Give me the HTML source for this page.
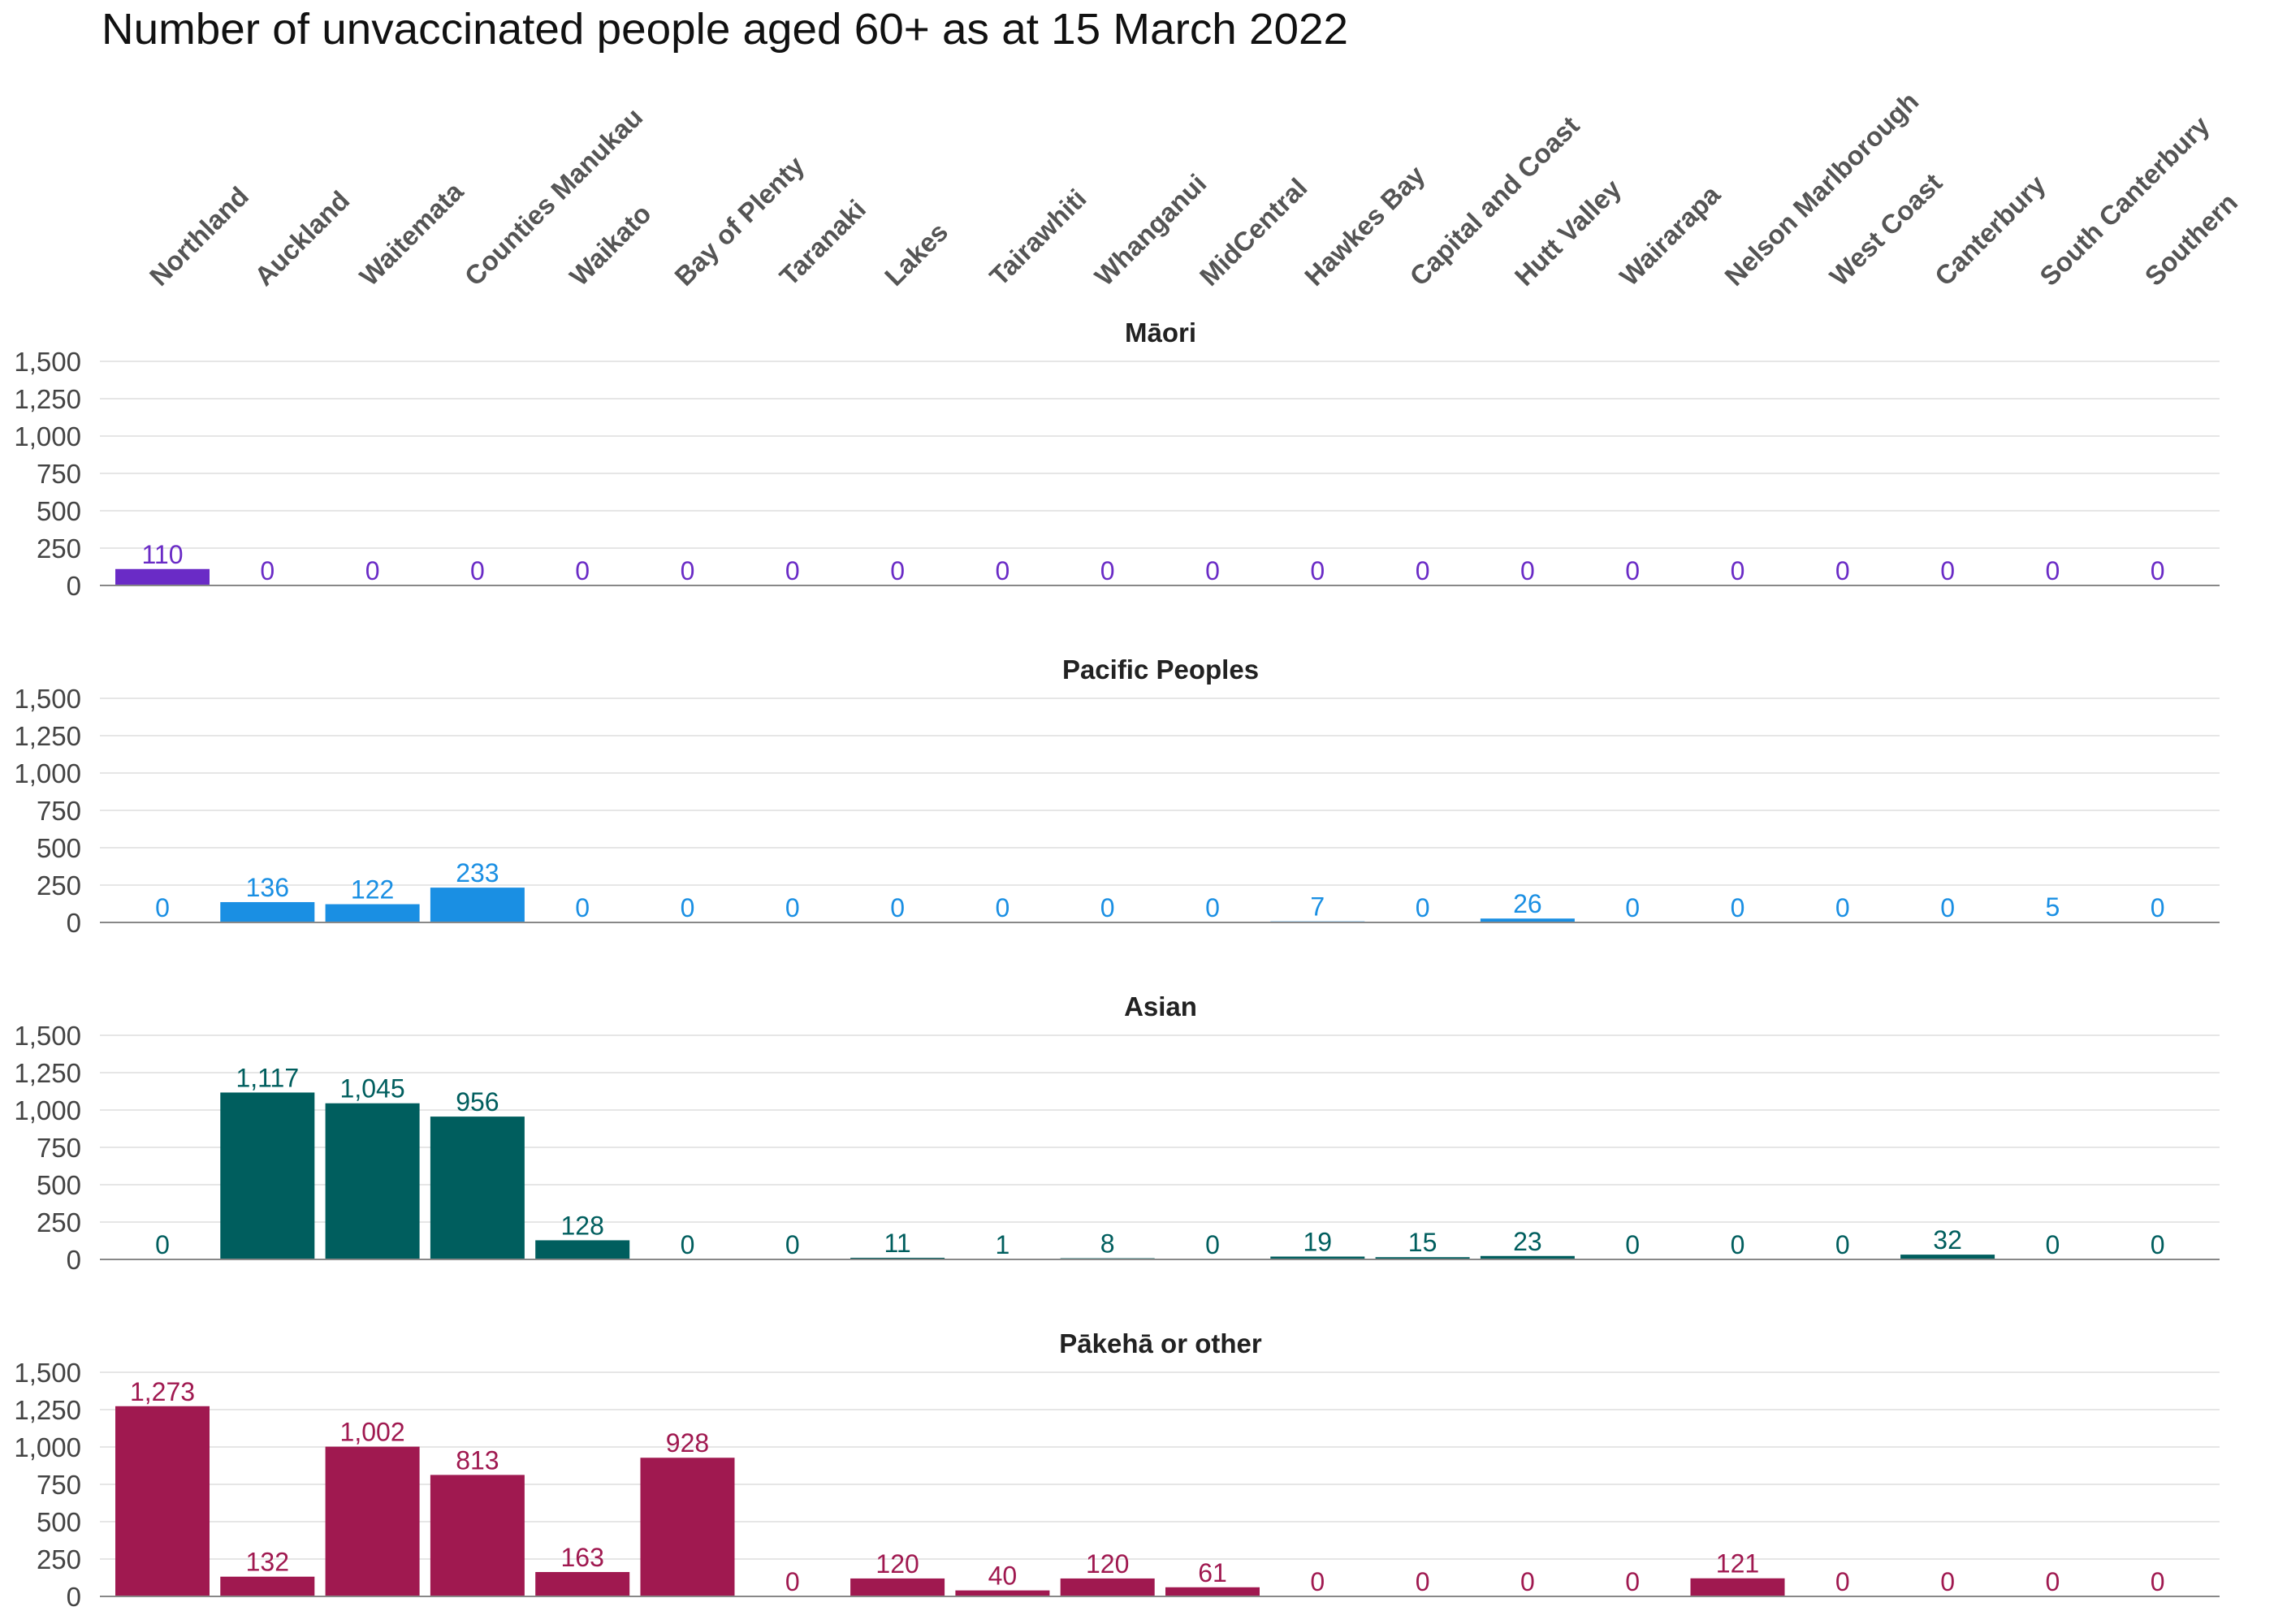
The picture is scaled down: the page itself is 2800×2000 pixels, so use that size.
<!DOCTYPE html>
<html><head><meta charset="utf-8"><style>
html,body{margin:0;padding:0;background:#fff;}
svg{display:block;font-family:"Liberation Sans",sans-serif;}
</style></head><body>
<svg id="chart" width="2800" height="2000" viewBox="0 0 2800 2000" xmlns="http://www.w3.org/2000/svg">
<text x="125" y="54" font-size="54" fill="#111" textLength="1535" lengthAdjust="spacingAndGlyphs">Number of unvaccinated people aged 60+ as at 15 March 2022</text>
</svg>
<script>
const categories = ["Northland","Auckland","Waitemata","Counties Manukau","Waikato","Bay of Plenty","Taranaki","Lakes","Tairawhiti","Whanganui","MidCentral","Hawkes Bay","Capital and Coast","Hutt Valley","Wairarapa","Nelson Marlborough","West Coast","Canterbury","South Canterbury","Southern"];
const panelTitles = ["Māori","Pacific Peoples","Asian","Pākehā or other"];
const maoriValues = [110,0,0,0,0,0,0,0,0,0,0,0,0,0,0,0,0,0,0,0];
const pacificValues = [0,136,122,233,0,0,0,0,0,0,0,7,0,26,0,0,0,0,5,0];
const asianValues = [0,1117,1045,956,128,0,0,11,1,8,0,19,15,23,0,0,0,32,0,0];
const pakehaValues = [1273,132,1002,813,163,928,0,120,40,120,61,0,0,0,0,121,0,0,0,0];
const yTicks = [0,250,500,750,1000,1250,1500];

const series = [maoriValues, pacificValues, asianValues, pakehaValues];
const colors = ["#6a2bc6","#1a8fe3","#005e5e","#a01950"];
const svg = document.getElementById('chart');
const NS = "http://www.w3.org/2000/svg";
const plotLeft = 123, plotRight = 2733, firstCenter = 200, step = 129.3, barW = 116;
const baselines = [721, 1136, 1551, 1966];
const pxPer = 276 / 1500;
function xCenter(i){ return firstCenter + i * step; }
function yScale(v, p){ return baselines[p] - v * pxPer; }
function fmt(v){ return v.toLocaleString('en-US'); }
function mk(tag, attrs){ const e = document.createElementNS(NS, tag); for (const k in attrs) e.setAttribute(k, attrs[k]); return e; }

categories.forEach((c, i) => {
  const x = xCenter(i) - 2, y = 354;
  const t = mk('text', {x: x, y: y, transform: `rotate(-45 ${x} ${y})`, 'font-size': 33, 'font-weight': 'bold', fill: '#555'});
  
  
  t.textContent = c;
  svg.appendChild(t);
});

series.forEach((vals, p) => {
  const g = mk('g', {});
  
  
  svg.appendChild(g);
  const title = mk('text', {x: 1429, y: baselines[p] - 300, 'font-size': 33, 'font-weight': 'bold', fill: '#222', 'text-anchor': 'middle'});
  
  
  title.textContent = panelTitles[p];
  g.appendChild(title);
  yTicks.forEach(t => {
    const y = yScale(t, p);
    if (t > 0) {
      const gl = mk('line', {x1: plotLeft, x2: plotRight, y1: y, y2: y, stroke: '#e6e6e6', 'stroke-width': 2});
      
      
      g.appendChild(gl);
    }
    const lbl = mk('text', {x: 100, y: y + 12, 'font-size': 33, fill: '#444', 'text-anchor': 'end'});
    
    
    lbl.textContent = fmt(t);
    g.appendChild(lbl);
  });
  vals.forEach((v, i) => {
    const y = yScale(v, p);
    const r = mk('rect', {x: xCenter(i) - barW / 2, y: y, width: barW, height: baselines[p] - y, fill: colors[p]});
    
    
    g.appendChild(r);
    const vl = mk('text', {x: xCenter(i), y: y - 7, 'font-size': 32, fill: colors[p], 'text-anchor': 'middle'});
    
    
    vl.textContent = fmt(v);
    g.appendChild(vl);
  });
  const ax = mk('line', {x1: plotLeft, x2: plotRight, y1: baselines[p], y2: baselines[p], stroke: '#888', 'stroke-width': 2});
  
  
  g.appendChild(ax);
});
</script>
</body></html>
